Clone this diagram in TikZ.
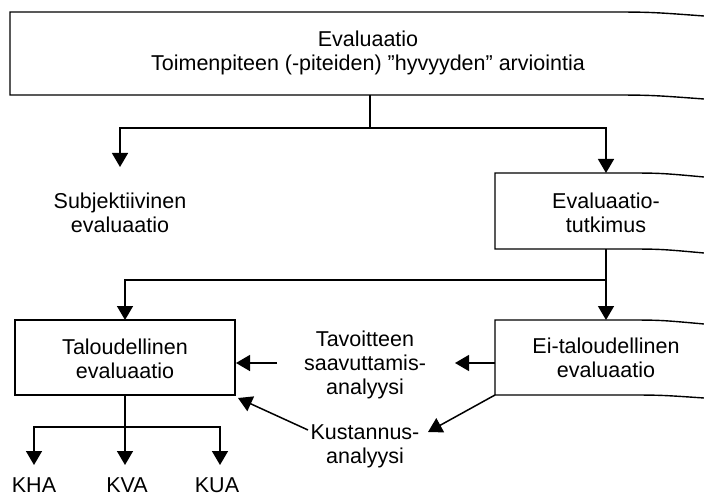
\documentclass[tikz,border=0pt]{standalone}
\usepackage{fontspec}
\setmainfont{Liberation Sans}
\usetikzlibrary{arrows.meta}
\begin{document}
\begin{tikzpicture}[x=1pt,y=-1pt,
  lbl/.style={align=center,font=\fontsize{21.5}{24}\selectfont,inner sep=0pt},
  ln/.style={line width=1.5pt},
  conn/.style={ln,-{Triangle[length=14pt,width=16pt]}},
  frame/.style={line width=1.4pt}]
\useasboundingbox (0,0) rectangle (704,497);

% --- text nodes ---
\node[lbl] (top)  at (368,53)  {Evaluaatio\\Toimenpiteen (-piteiden) ”hyvyyden” arviointia};
\node[lbl] (subj) at (120,213) {Subjektiivinen\\evaluaatio};
\node[lbl] (evt)  at (606,213) {Evaluaatio-\\tutkimus};
\node[lbl] (talo) at (125,359) {Taloudellinen\\evaluaatio};
\node[lbl] (ei)   at (606,358) {Ei-taloudellinen\\evaluaatio};
\node[lbl] (tav)  at (365,365) {Tavoitteen\\saavuttamis-\\analyysi};
\node[lbl] (kust) at (365,446) {Kustannus-\\analyysi};
\node[lbl] (kha)  at (34,485)  {KHA};
\node[lbl] (kva)  at (127,485) {KVA};
\node[lbl] (kua)  at (217,485) {KUA};

% --- boxes (the right-hand ones run off the page) ---
\draw[frame] (704,16) .. controls (650,12) .. (600,12) -- (10,12) -- (10,95)
  -- (600,95) .. controls (650,95) .. (704,99);
\draw[frame] (704,177) .. controls (660,173) .. (620,173) -- (495,173) -- (495,249)
  -- (620,249) .. controls (660,249) .. (704,253);
\draw[frame] (704,324) .. controls (660,320) .. (620,320) -- (495,320) -- (495,395)
  -- (620,395) .. controls (660,395) .. (704,398);
\draw[frame] (15,320) rectangle (235,395);

% --- anchor points on the boxes ---
\coordinate (topS)  at (370,95);
\coordinate (evtS)  at (606,249);
\coordinate (evtN)  at (606,173);
\coordinate (eiN)   at (606,320);
\coordinate (eiW)   at (495,363);
\coordinate (eiSW)  at (495,395);
\coordinate (taloN) at (125,320);
\coordinate (taloS) at (125,395);
\coordinate (taloE) at (236,363);
\coordinate (taloSE) at (238,398);
\coordinate (subjN) at (120,167);

% --- connectors ---
\draw[ln] (topS) -- (370,128);
\draw[conn] (370,128) -| (subjN);
\draw[conn] (370,128) -| (evtN);

\draw[ln] (evtS) -- (606,280);
\draw[conn] (606,280) -| (taloN);
\draw[conn] (606,280) -- (eiN);

\draw[conn] (eiW) -- (455,363);
\draw[conn] (277,363) -- (taloE);
\draw[conn] (eiSW) -- (428,432);
\draw[conn] (308,430) -- (taloSE);

\draw[ln] (taloS) -- (125,427);
\draw[conn] (125,427) -| (34,465);
\draw[conn] (125,427) -- (125,465);
\draw[conn] (125,427) -| (220,465);
\end{tikzpicture}
\end{document}
